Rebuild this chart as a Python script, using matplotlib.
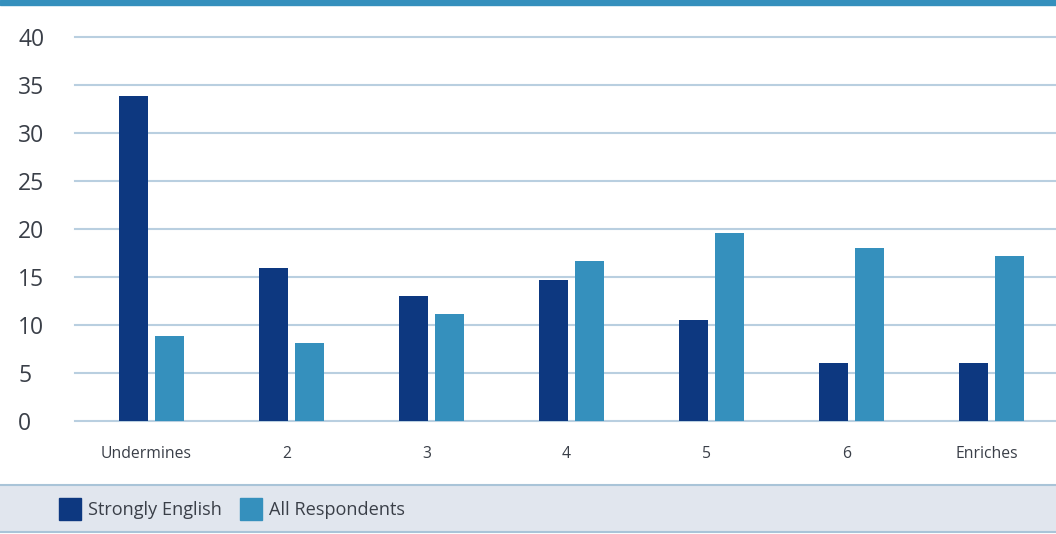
import numpy as np
import matplotlib
matplotlib.use('Agg')
import matplotlib.pyplot as plt
import matplotlib.transforms as mtransforms
from matplotlib.patches import Rectangle

categories = ['Undermines', '2', '3', '4', '5', '6', 'Enriches']
strongly_english = [33.9, 15.9, 13.0, 14.7, 10.5, 6.0, 6.0]
all_respondents = [8.9, 8.1, 11.1, 16.7, 19.6, 18.0, 17.2]
series_names = ['Strongly English', 'All Respondents']

dark = '#0d3880'
light = '#3590bd'
grid_col = '#b9cfe0'
text_col = '#3a3f48'

plt.rcParams['font.family'] = ['Open Sans', 'DejaVu Sans']

W, H = 1056, 534
fig = plt.figure(figsize=(W / 100, H / 100), dpi=100)

# top blue band
fig.patches.append(Rectangle((0, 1 - 5 / H), 1, 5 / H, transform=fig.transFigure,
                             color=light, zorder=0))
# legend band
fig.patches.append(Rectangle((0, (H - 532) / H), 1, 47 / H, transform=fig.transFigure,
                             facecolor='#e1e6ee', edgecolor='none', zorder=0))
for yy in (485, 532):
    fig.add_artist(plt.Line2D([0, 1], [(H - yy) / H] * 2, transform=fig.transFigure,
                              color='#a9c4d8', lw=1.5))

ax = fig.add_axes([75 / W, (H - 421) / H, 1 - 75 / W, 384 / H])
x = np.arange(len(categories))
w = 0.207
ax.bar(x - 0.129, strongly_english, w, color=dark, zorder=3)
ax.bar(x + 0.129, all_respondents, w, color=light, zorder=3)

ax.set_xlim(-0.545, 6.46)
ax.set_ylim(0, 40)
ax.set_yticks(range(0, 41, 5))
ax.yaxis.grid(True, color=grid_col, lw=1.5, zorder=0)
for line in ax.get_ygridlines():
    line.set_clip_on(False)
ax.set_xticks(x)
ax.set_xticklabels(categories)
ax.tick_params(axis='x', length=0, pad=18, labelsize=11.3, labelcolor=text_col)
# category labels sit a few pixels left of the group centres
shift = mtransforms.ScaledTranslation(-5 / 100, 0, fig.dpi_scale_trans)
for lab in ax.get_xticklabels():
    lab.set_transform(lab.get_transform() + shift)
# pad in points: 57 px from the axis to the left edge of the labels
ax.tick_params(axis='y', length=0, pad=57 * 0.72, labelsize=16.5, labelcolor=text_col)
for lab in ax.get_yticklabels():
    lab.set_horizontalalignment('left')
for s in ax.spines.values():
    s.set_visible(False)

# legend
ly = (H - 510) / H
for sx, name, col in [(59, series_names[0], dark), (240, series_names[1], light)]:
    fig.patches.append(Rectangle((sx / W, (H - 520) / H), 22 / W, 22 / H,
                                 transform=fig.transFigure, color=col))
    fig.text((sx + 29) / W, ly, name, fontsize=13.1, color=text_col, va='center')

fig.savefig('out.png', dpi=100)
